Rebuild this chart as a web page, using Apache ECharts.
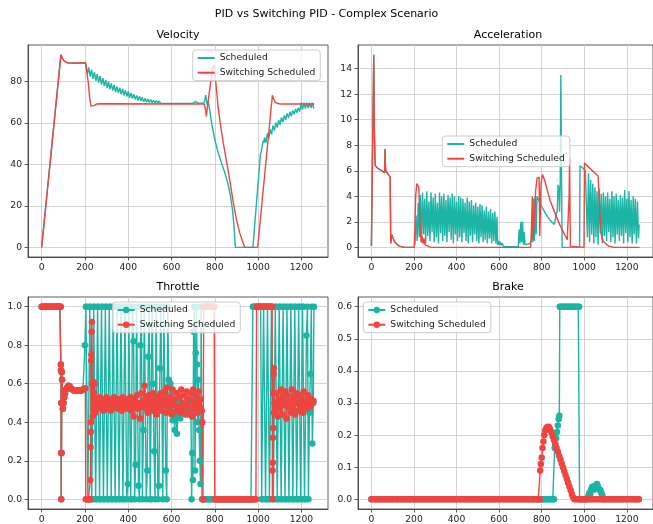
<!DOCTYPE html>
<html><head><meta charset="utf-8">
<script src="https://cdn.jsdelivr.net/npm/echarts@6/dist/echarts.min.js"></script>
<style>html,body{margin:0;padding:0;background:#fff;}#c{width:653px;height:524px;}</style>
</head><body><div id="c"></div>
<script>
// ---------- tick labels ----------
const xTicks = [0,200,400,600,800,1000,1200];
const velTicks = [0,20,40,60,80];
const accTicks = [0,2,4,6,8,10,12,14];
const thrTicks = [0,0.2,0.4,0.6,0.8,1.0];
const brkTicks = [0,0.1,0.2,0.3,0.4,0.5,0.6];
const seriesNames = ['Scheduled','Switching Scheduled'];

// ---------- velocity ----------
const velStart = [[0,0],[8,0],[89,92.9],[96,91.2],[105,89.9],[115,89.2],[130,88.9],[160,89],[203,89]];
const velSchOsc = [88.3,83.6,86.8,82.4,85.7,81.3,84.6,80.4,83.6,79.5,82.6,78.6,81.7,77.8,80.8,77.0,80.0,76.3,79.1,75.6,
  78.4,74.9,77.7,74.4,77.1,73.8,76.5,73.3,75.8,72.8,75.2,72.2,74.5,71.8,73.9,71.4,73.3,70.9,72.9,70.6,
  72.4,70.3,72.0,70.1,71.6,69.9,71.3,69.8,71.0,69.7,70.8,69.6,70.6,69.5,70.4,69.5,70.2,69.5,70.0,69.5,69.8];
const velSchMid = [[602,69.5],[650,69.5],[698,69.5],[702,70.3],[706,69.6],[710,70.4],[714,69.7],[718,70.2],[723,69.6],[730,69.9],[740,69.6],[750,69.7],[755,71.5],[758,73.5],[762,70.8],[765,68.7],[769,70.5],[773,68.5],[778,65],[785,60],[800,52],[815,46],[830,41],[845,36.5],[860,31],[872,25],[882,18],[889,10],[895,0],[976,0],[1011,45.2],[1015,46.3],[1019,45.4],[1024,51.5],[1027,50.5]];
const velSchOsc2 = [53,50.5,55,52.5,57,54.5,58.8,56.3,60.2,57.8,61.5,59.2,62.7,60.4,63.7,61.5,64.6,62.5,65.4,63.4,66.1,64.2,66.8,65,67.4,65.6,69.8,66.5,69.8,67,69.8,67.2,69.8,67.2,69.8,67];
const velSwRest = [[207,89],[215,80],[222,72],[228,68.2],[235,67.8],[242,68.4],[255,69.2],[270,69.3],[752,69.2],[758,66],[761,63.2],[765,67],[770,71],[780,79],[790,86.5],[796,88],[801,84],[808,76],[815,68],[825,60],[840,50],[855,41],[870,32],[885,22],[900,13.5],[915,7],[928,3],[938,0],[998,0],[1066,73.4],[1072,71.5],[1080,70],[1090,69.4],[1105,69.2],[1260,69.2]];

// ---------- acceleration ----------
const accStart = [[0,0.1],[6,0.1],[9,0],[11,15.1],[14,9],[18,6.4],[30,6.2],[62,5.85],[64,7.7],[66,6.3],[68,6.0],[88,5.5],[91,0.3],[96,1.0],[100,0.8],[104,0.9],[110,0.4],[130,0.1],[155,0],[201,0]];
const accSwRest = [[204,1.5],[208,4],[213,5],[218,5.05],[223,4.7],[228,2],[234,0.4],[238,0.9],[242,0.3],[247,0.7],[252,0.2],[260,0.1],[280,0],[748,0],[752,1.5],[756,4],[760,0.6],[766,0.5],[772,4.5],[778,5.4],[784,5.5],[788,5.5],[791,0.9],[797,5],[804,5.7],[815,5.2],[839,3.7],[860,2.8],[884,1.8],[905,1.1],[920,0.6],[926,0.5],[929,4.0],[931,7.0],[933,3.0],[935,0.1],[938,0],[999,0],[1001,6.6],[1065,5.6],[1072,3],[1080,1],[1088,0.5],[1095,0.6],[1100,0.3],[1115,0.1],[1140,0],[1260,0]];
const accSchOsc = [0.3,2.5,0.5,3.5,0.8,4.1,0.4,4.3,1.0,3.8,0.3,4.4,0.9,3.6,0.5,4.3,1.2,3.9,0.4,4.2,
  0.8,3.5,0.3,4.3,1.1,4.0,0.5,4.2,0.9,3.7,0.4,4.1,1.2,3.9,0.6,4.2,0.3,4.0,1.0,3.6,
  0.5,4.0,0.8,3.9,0.4,3.8,1.1,3.5,0.5,3.9,0.3,3.6,0.9,3.7,0.4,3.3,1.0,3.5,0.5,3.2,
  0.3,3.4,0.8,3.3,0.4,2.9,0.6,3.2,0.3,2.8,0.7,3.0,0.3,2.7,0.5,2.8,0.3,2.4];
const accSchMid = [[593,0.2],[597,0.5],[601,0.2],[605,0.45],[609,0.15],[614,0.35],[620,0.1],[630,0.05],[690,0.05],[694,1.4],[698,0.3],[702,2.0],[706,0.4],[710,2.0],[714,0.2],[718,1.2],[722,0.2],[730,0.2],[745,0.3],[752,0.5],[755,1.5],[758,0.4],[762,3.8],[766,0.5],[770,4.0],[774,1.0],[778,4.0],[786,3.7],[800,3.2],[820,2.6],[840,2.1],[860,1.8],[868,2.6],[873,2.8],[877,4.9],[881,4.6],[884,2.8],[887,5.0],[890,13.5],[893,6],[896,0],[978,0],[980,6.4],[995,6.2],[1005,6.0],[1010,5.9]];
const accSchOsc2 = [0.8,5.8,0.4,5.3,1.0,5.0,0.3,4.7,0.8,4.4,0.2,4.6,1.1,4.2,0.3,4.3,0.9,4.0,0.5,4.3,
  1.2,3.8,0.4,4.4,0.8,4.0,0.3,4.2,1.0,3.7,0.5,4.1,0.9,3.9,0.3,4.5,1.1,3.8,0.4,4.4,
  0.8,3.7,0.3,4.0,1.0,3.8,0.3,3.6,0.7];
const accSchEnd = [[1258,1.8]];

// ---------- throttle ----------
const thrOnesStart = [1,1,1,1,1,1,1,1,1,1,1,1,1,1,1,1,1,1,1,1,1,1,1];
const thrEarly = [[89,0.7],[89.5,0.67],[90,0.24],[90.5,0],[91,0.5],[92,0.24],[93,0.66],[94.5,0.62],[96,0.5],[98,0.47],[101,0.5],[104,0.53],[108,0.55],[113,0.57],[118,0.58],[124,0.59],[130,0.585],[136,0.575],[142,0.57],[149,0.565],[156,0.565],[163,0.565],[170,0.565],[177,0.565],[184,0.565],[191,0.57],[198,0.575]];
const thrSwMid = [[202,0.575],[204,0],[208,0],[212,0],[216,0],[220,0],[224,0],[225,0.1],[226,0.27],[227,0.35],[228,0.4],[229,0.72],[230,0.75],[231,0.87],[232,0.92],[234,0.6],[236,0.43],[238,0.61],[240,0.47],[243,0.55],[246,0.6],[249,0.45],[252,0.52]];
const thrSwCluster = [0.52,0.47,0.5,0.53,0.48,0.51,0.46,0.52,0.49,0.53,0.47,0.5,0.52,0.46,0.51,0.49,0.53,0.48,0.5,0.47,0.52,0.49,0.51,0.46,0.53,0.48,0.5,0.52,0.47,0.51,
  0.49,0.53,0.46,0.51,0.43,0.52,0.48,0.54,0.47,0.5,0.42,0.55,0.48,0.51,0.59,0.47,0.52,0.45,0.54,0.49,0.51,0.46,0.55,0.48,0.52,0.44,0.53,0.5,0.47,0.55,
  0.46,0.52,0.49,0.56,0.45,0.58,0.5,0.47,0.53,0.44,0.57,0.49,0.52,0.46,0.55,0.48,0.53,0.45,0.57,0.5,0.47,0.54,0.44,0.56,0.49,0.52,0.46,0.55,0.43,0.57,0.5,0.47,0.54,0.45,0.56,0.48,0.52,0.46];
const thrSwDrop = [[742,0.4],[745,0],[747,0]];
const thrSwOnesA = [1,1,1,1,1,1,1,1,1,1,1,1,1];
const thrSwZeros = [0,0,0,0,0,0,0,0,0,0,0,0,0,0,0,0,0,0,0,0,0,0,0,0,0,0,0,0,0,0,0,0,0,0,0,0,0,0,0];
const thrSwOnesB = [1,1,1,1,1,1,1,1,1,1,1,1,1,1,1,1,1,1];
const thrSwRecover = [[1065,1],[1066,0],[1067,0.15],[1068,0.19],[1069,0.32],[1070,0.37],[1071,0.55],[1072,0.65],[1073,0.68],[1074,0.45]];
const thrSwCluster2 = [0.5,0.45,0.55,0.43,0.52,0.47,0.57,0.44,0.53,0.49,0.56,0.42,0.54,0.48,0.51,0.45,0.57,0.47,0.53,0.44,
  0.55,0.5,0.46,0.54,0.48,0.52,0.45,0.56,0.49,0.51,0.47,0.54,0.5,0.48,0.52,0.5,0.51];
const thrSchDense = [0.8,
  1,1,0,0, 1,1,0,0, 1,1,0,0, 1,1,0,0, 1,1,0,0,
  1,1,0,0, 1,1,0,0, 1,1,0,0, 1,1,0,0, 1,1,0,0,
  1,1,0,0.08, 1,1,0,0, 1,0.82,0,0.18, 1,1,0.07,0, 0.8,1,0,0.36,
  1,1,0,0.15, 0.74,1,0,0, 1,0.6,0.25,0, 1,1,0,0.07, 0.68,1,0.5,0,
  1,1,0.15,0, 1,0.62,0.58];
const thrSchMid = [[595,0.6],[600,0.55],[605,0.41],[610,0.45],[615,0.36],[620,0.5],[625,0.34],[630,0.44],[635,0.5],[640,0.42],[648,0.48],[655,0.45],[662,0.5],[670,0.47],[678,0.44],[686,0.5],[690,0.45],[693,0],[696,0.24],[699,0.1],[702,0.87],[705,1],[709,0.15],[712,0.76],[715,1],[718,0.7],[721,0.4],[724,0.62],[728,0.36],[731,0.2],[734,0.08],[737,1],[741,0]];
const thrSchZeros = [0,0,0,0,0,0,0,0,0,0,0,0,0,0,0,0,0,0,0,0,0,0,0,0,0,0,0,0,0,0,0,0,0,0,0,0,0,0,0];
const thrSchOnes = [1,1,1,1,1,1,1,1,1];
const thrSchDense2 = [1,
  0,0,1,1, 0,0,1,1, 0,0,1,1, 0,0,1,1, 0,0,1,1, 0,0,1,1,
  0,0,1,1, 0,0,1,1, 0,0,1,1, 0,0,1,1, 0,0,1,1,
  0,0,0.85,1, 0,0.45,0.65,1, 0.29,0.5];
const thrSchEnd = [[1258,1]];

// ---------- brake ----------
const brkSwZerosA = [0,0,0,0,0,0,0,0,0,0,0,0,0,0,0,0,0,0,0,0,0,0,0,0,0,0,0,0,0,0,0,0,0,0,0,0,0,0,0,0,0,0,0,0,0,0,0,0,0,0,
  0,0,0,0,0,0,0,0,0,0,0,0,0,0,0,0,0,0,0,0,0,0,0,0,0,0,0,0,0,0,0,0,0,0,0,0,0,0,0,0,0,0,0,0,0,0,0,0,0,0];
const brkSwHump = [[793,0.09],[796,0.11],[800,0.13],[804,0.16],[808,0.18],[812,0.2],[817,0.215],[822,0.222],[828,0.226],[834,0.225],[840,0.218],[846,0.208],[852,0.196],[858,0.184],[864,0.172],[870,0.16],[876,0.148],[882,0.136],[888,0.124],[894,0.112],[900,0.1],[906,0.088],[912,0.076],[918,0.064],[924,0.052],[930,0.04],[936,0.028],[942,0.016],[948,0.006],[954,0]];
const brkSwZerosB = [0,0,0,0,0,0,0,0,0,0,0,0,0,0,0,0,0,0,0,0,0,0,0,0,0,0,0,0,0,0,0,0,0,0,0,0,0,0];
const brkSchZerosA = [0,0,0,0,0,0,0,0,0,0,0,0,0,0,0,0,0,0,0,0,0,0,0,0,0,0,0,0,0,0,0,0,0,0,0,0,0,0,0,0];
const brkSchZerosB = [0,0,0,0,0,0,0,0,0,0,0,0,0];
const brkSchRise = [[861,0.16],[864,0.17],[868,0.19],[872,0.21],[876,0.23],[880,0.25],[883,0.26],[885,0.6]];
const brkSchHold = [0.6,0.6,0.6,0.6,0.6,0.6,0.6,0.6,0.6,0.6,0.6,0.6,0.6,0.6,0.6];
const brkSchRelease = [[976,0.6],[978,0]];
const brkSchZerosC = [0,0,0,0,0,0];
const brkSchBumps = [[1016,0.005],[1020,0.012],[1024,0.02],[1028,0.015],[1032,0.03],[1036,0.037],[1040,0.04],[1044,0.03],[1048,0.038],[1052,0.042],[1056,0.045],[1060,0.048],[1064,0.04],[1068,0.032],[1072,0.03],[1076,0.028],[1080,0.02],[1084,0.014],[1088,0.005],[1092,0]];
const brkSchZerosD = [0,0,0,0,0,0,0,0];
const brkSchEnd = [[1256,0]];

// ---------- assembly ----------
function seq(x0, dx, ys){ return ys.map((y,i)=>[Math.round((x0+i*dx)*100)/100, y]); }
const velSch = [...velStart, ...seq(205,6.5,velSchOsc), ...velSchMid, ...seq(1030,6.5,velSchOsc2)];
const velSw = [...velStart, ...velSwRest];
const accSch = [...accStart, ...seq(205,5,accSchOsc), ...accSchMid, ...seq(1015,5,accSchOsc2), ...accSchEnd];
const accSw = [...accStart, ...accSwRest];
const thrSw = [...seq(0,4,thrOnesStart), ...thrEarly, ...thrSwMid, ...seq(255,5,thrSwCluster), ...thrSwDrop,
  ...seq(749,4,thrSwOnesA), ...seq(800,5,thrSwZeros), ...seq(993,4,thrSwOnesB), ...thrSwRecover, ...seq(1076,5,thrSwCluster2)];
const thrSch = [...seq(0,4,thrOnesStart), ...thrEarly, ...seq(200,4.5,thrSchDense), ...thrSchMid,
  ...seq(745,6,thrSchZeros), ...seq(976,4,thrSchOnes), ...seq(1012,4.5,thrSchDense2), ...thrSchEnd];
const brkSw = [...seq(0,8,brkSwZerosA), ...brkSwHump, ...seq(960,8,brkSwZerosB)];
const brkSch = [...seq(0,20,brkSchZerosA), ...seq(786,6,brkSchZerosB), ...brkSchRise, ...seq(888,6,brkSchHold),
  ...brkSchRelease, ...seq(982,6,brkSchZerosC), ...brkSchBumps, ...seq(1100,20,brkSchZerosD), ...brkSchEnd];

const FONT = 'DejaVu Sans';
const TEAL = '#1cb4a4', RED = '#ef4540';
const TXT = '#222';
const gridBoxes = [
  {left:28, top:45, width:300, height:212},
  {left:358, top:45, width:300, height:212},
  {left:28, top:297, width:300, height:212},
  {left:358, top:297, width:300, height:212}
];
function xAx(i){
  return {type:'value', gridIndex:i, min:-63, max:1323,
    axisLine:{show:true, onZero:false, lineStyle:{color:'#333', width:0.8}},
    axisTick:{show:true, length:3.5, customValues:xTicks, lineStyle:{color:'#333', width:0.8}},
    axisLabel:{customValues:xTicks, margin:6, fontSize:9.2, color:TXT, fontFamily:FONT, formatter:v=>String(Math.round(v))},
    splitLine:{show:true, lineStyle:{color:'#c8c8c8', width:0.8}}};
}
function yAx(i, min, max, ticks, dec){
  return {type:'value', gridIndex:i, min, max,
    axisLine:{show:true, onZero:false, lineStyle:{color:'#333', width:0.8}},
    axisTick:{show:true, length:3.5, customValues:ticks, lineStyle:{color:'#333', width:0.8}},
    axisLabel:{customValues:ticks, margin:6, fontSize:9.2, color:TXT, fontFamily:FONT,
      formatter:v=>dec ? Number(v).toFixed(dec) : String(Math.round(v))},
    splitLine:{show:true, lineStyle:{color:'#c8c8c8', width:0.8}}};
}
function line(i, name, data, color, markers){
  return {type:'line', name, xAxisIndex:i, yAxisIndex:i, data,
    symbol: markers ? 'circle' : 'none', symbolSize:6.5, showSymbol:markers, showAllSymbol:true,
    lineStyle:{width:1.4, color}, itemStyle:{color}, emphasis:{disabled:true}, silent:true, animation:false};
}
function legend(left, top, markers){
  return {orient:'vertical', left, top, data:seriesNames, itemWidth:17, itemHeight:8, itemGap:3.7, itemTextGap:9.5,
    padding:[2.5,5,2.5,4], backgroundColor:'rgba(255,255,255,0.8)', borderColor:'#cccccc', borderWidth:1, borderRadius:3,
    selectedMode:false, itemStyle: markers ? {} : {opacity:0},
    textStyle:{fontSize:9.2, color:TXT, fontFamily:FONT, lineHeight:11}};
}
function txt(x, y, s){
  return {type:'text', x, y, silent:true, style:{text:s, font:'11px "DejaVu Sans"', fill:'#000', align:'center', verticalAlign:'middle'}};
}

const chart = echarts.init(document.getElementById('c'), null, {renderer:'canvas'});
chart.setOption({
  animation:false,
  backgroundColor:'#fff',
  textStyle:{fontFamily:FONT},
  grid: gridBoxes.map(g=>Object.assign({show:true, borderColor:'#333', borderWidth:0.8, backgroundColor:'transparent'}, g)),
  xAxis:[xAx(0), xAx(1), xAx(2), xAx(3)],
  yAxis:[yAx(0,-4.65,97.65,velTicks,0), yAx(1,-0.755,15.855,accTicks,0), yAx(2,-0.05,1.05,thrTicks,1), yAx(3,-0.03,0.63,brkTicks,1)],
  legend:[legend(192.7,50,false), legend(442.3,136,false), legend(112.7,302,true), legend(363.3,302,true)],
  series:[
    line(0,'Scheduled',velSch,TEAL,false), line(0,'Switching Scheduled',velSw,RED,false),
    line(1,'Scheduled',accSch,TEAL,false), line(1,'Switching Scheduled',accSw,RED,false),
    line(2,'Scheduled',thrSch,TEAL,true), line(2,'Switching Scheduled',thrSw,RED,true),
    line(3,'Scheduled',brkSch,TEAL,true), line(3,'Switching Scheduled',brkSw,RED,true)
  ],
  graphic:[
    txt(326.5,14,'PID vs Switching PID - Complex Scenario'),
    txt(178,35.5,'Velocity'), txt(508,35.5,'Acceleration'),
    txt(178,287.5,'Throttle'), txt(508,287.5,'Brake')
  ]
});
</script></body></html>
